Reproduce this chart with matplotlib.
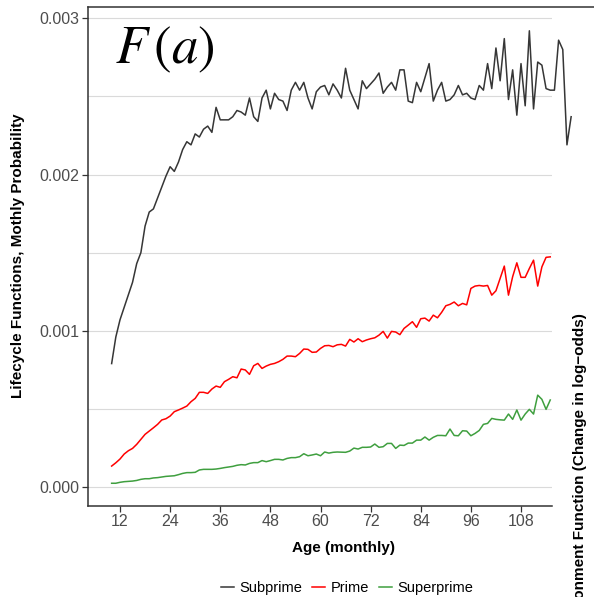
import matplotlib
matplotlib.use('Agg')
import matplotlib.pyplot as plt
from matplotlib.lines import Line2D

plt.rcParams['font.family'] = ['Liberation Sans', 'DejaVu Sans']
plt.rcParams['mathtext.fontset'] = 'stix'

# monthly probabilities in units of 1e-3 (age 10 onward)
subprime = [0.79, 0.96, 1.07, 1.15, 1.23, 1.31, 1.43, 1.50, 1.67, 1.76,
            1.78, 1.85, 1.92, 1.99, 2.05, 2.02, 2.08, 2.16, 2.21, 2.19,
            2.26, 2.24, 2.29, 2.31, 2.27, 2.43, 2.35, 2.35, 2.35, 2.37,
            2.41, 2.40, 2.38, 2.49, 2.37, 2.34, 2.49, 2.54, 2.42, 2.52,
            2.48, 2.47, 2.41, 2.54, 2.59, 2.54, 2.59, 2.49, 2.42, 2.53,
            2.56, 2.57, 2.51, 2.58, 2.54, 2.49, 2.68, 2.54, 2.48, 2.42,
            2.60, 2.55, 2.58, 2.61, 2.65, 2.52, 2.56, 2.59, 2.54, 2.67,
            2.67, 2.47, 2.46, 2.59, 2.53, 2.62, 2.71, 2.47, 2.54, 2.59,
            2.47, 2.48, 2.51, 2.57, 2.51, 2.52, 2.49, 2.48, 2.57, 2.54,
            2.71, 2.55, 2.81, 2.60, 2.87, 2.48, 2.67, 2.38, 2.71, 2.44,
            2.92, 2.42, 2.72, 2.70, 2.55, 2.54, 2.54, 2.86, 2.80, 2.19,
            2.37]
prime = [0.134, 0.155, 0.179, 0.211, 0.232, 0.247, 0.273, 0.305, 0.337, 0.358,
         0.379, 0.401, 0.429, 0.437, 0.454, 0.482, 0.493, 0.505, 0.518, 0.546,
         0.567, 0.606, 0.606, 0.599, 0.627, 0.646, 0.638, 0.674, 0.689, 0.706,
         0.699, 0.755, 0.749, 0.721, 0.776, 0.791, 0.759, 0.774, 0.785, 0.791,
         0.802, 0.817, 0.838, 0.838, 0.834, 0.855, 0.883, 0.881, 0.862, 0.864,
         0.887, 0.904, 0.906, 0.898, 0.910, 0.913, 0.902, 0.945, 0.928, 0.949,
         0.930, 0.941, 0.949, 0.955, 0.972, 0.996, 0.953, 0.996, 0.992, 0.975,
         1.015, 1.036, 1.058, 1.022, 1.077, 1.081, 1.062, 1.100, 1.083, 1.118,
         1.160, 1.169, 1.184, 1.160, 1.175, 1.166, 1.271, 1.286, 1.290, 1.286,
         1.290, 1.228, 1.256, 1.335, 1.414, 1.228, 1.346, 1.435, 1.342, 1.342,
         1.399, 1.452, 1.286, 1.409, 1.470, 1.473]
superprime = [0.024, 0.024, 0.030, 0.034, 0.036, 0.038, 0.042, 0.049, 0.053, 0.053,
              0.058, 0.060, 0.064, 0.068, 0.070, 0.072, 0.079, 0.087, 0.092, 0.092,
              0.094, 0.109, 0.113, 0.113, 0.113, 0.115, 0.119, 0.124, 0.128, 0.132,
              0.139, 0.143, 0.141, 0.151, 0.156, 0.156, 0.169, 0.162, 0.169, 0.177,
              0.177, 0.173, 0.183, 0.188, 0.188, 0.194, 0.213, 0.200, 0.205, 0.211,
              0.200, 0.224, 0.217, 0.222, 0.224, 0.223, 0.222, 0.230, 0.249, 0.243,
              0.254, 0.254, 0.256, 0.275, 0.254, 0.258, 0.279, 0.279, 0.247, 0.268,
              0.266, 0.281, 0.281, 0.300, 0.300, 0.320, 0.300, 0.318, 0.330, 0.330,
              0.328, 0.371, 0.330, 0.328, 0.360, 0.358, 0.328, 0.343, 0.362, 0.401,
              0.407, 0.439, 0.433, 0.430, 0.428, 0.467, 0.433, 0.493, 0.428, 0.467,
              0.497, 0.467, 0.588, 0.561, 0.497, 0.557]
first_age = 10
x_ticks = [12, 24, 36, 48, 60, 72, 84, 96, 108]
y_ticks = [0.000, 0.001, 0.002, 0.003]
y_minor = [0.0005, 0.0015, 0.0025]


def ages(series):
    return list(range(first_age, first_age + len(series)))


fig = plt.figure(figsize=(5.94, 5.97), dpi=100)
ax = fig.add_axes([88 / 594, 91 / 597, 464 / 594, 499 / 597])

ax.plot(ages(subprime), [v / 1000 for v in subprime], color='#363636', lw=1.1,
        clip_on=False, label='Subprime')  # runs past the panel in the original
ax.plot(ages(prime), [v / 1000 for v in prime], color='#ff0000', lw=1.1, label='Prime')
ax.plot(ages(superprime), [v / 1000 for v in superprime], color='#3f9f3f', lw=1.1,
        label='Superprime')

ax.set_xlim(4.34, 115.42)
ax.set_ylim(-0.0001216, 0.0030723)
ax.set_xticks(x_ticks)
ax.set_yticks(y_ticks)
ax.set_yticklabels(['{:.3f}'.format(v) for v in y_ticks])
ax.set_yticks(y_minor, minor=True)
ax.grid(True, axis='y', which='both', color='#dadada', lw=0.8)
ax.set_axisbelow(True)
ax.tick_params(axis='both', which='major', length=4, width=0.9, color='#333333',
               labelsize=11.5, labelcolor='#4d4d4d', pad=2)
ax.tick_params(axis='y', which='minor', length=0)
for side in ['top', 'right']:
    ax.spines[side].set_visible(False)
for side in ['left', 'bottom']:
    ax.spines[side].set_color('#333333')
    ax.spines[side].set_linewidth(1.1)

# top border runs the full width of the figure
fig.add_artist(Line2D([88 / 594, 1.0], [1 - 7 / 597, 1 - 7 / 597],
                      color='#333333', lw=1.1))

fig.text(343 / 594, 1 - 548 / 597, 'Age (monthly)', ha='center', va='center',
         fontsize=11, fontweight='bold')
fig.text(18 / 594, 1 - 256 / 597, 'Lifecycle Functions, Mothly Probability',
         rotation=90, ha='center', va='center', fontsize=11, fontweight='bold')
fig.text(580 / 594, 1 - 313 / 597, 'Environment Function (Change in log\u2212odds)',
         rotation=90, ha='center', va='top', fontsize=11, fontweight='bold')
fig.text(115 / 594, 1 - 50 / 597, r'$F\,(a)$', ha='left', va='center', fontsize=38)

fig.legend(loc='center', bbox_to_anchor=(347 / 594, 1 - 588 / 597), ncol=3,
           frameon=False, fontsize=10.5, handlelength=0.9, handletextpad=0.35,
           columnspacing=0.7)

fig.savefig('out.png', dpi=100)
